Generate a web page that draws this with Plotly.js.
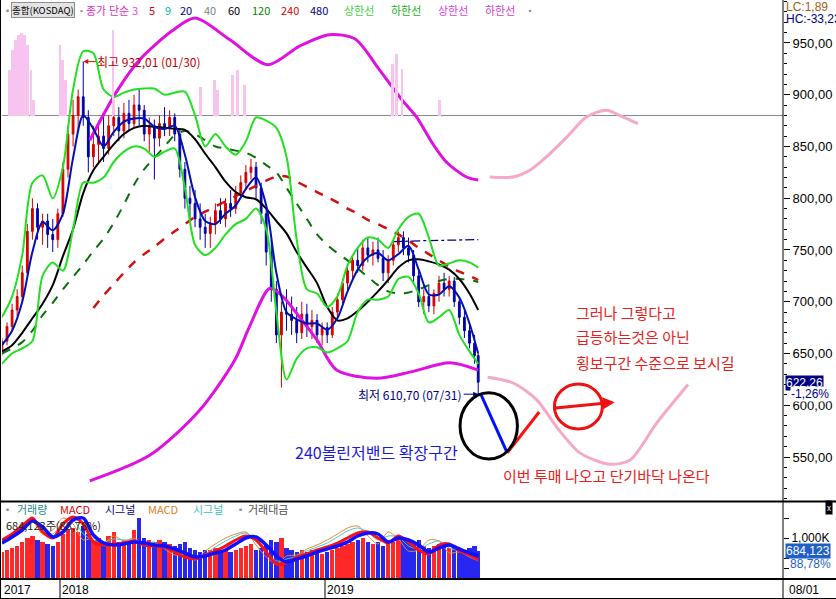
<!DOCTYPE html>
<html><head><meta charset="utf-8">
<script src="https://cdn.plot.ly/plotly-3.0.1.min.js"></script>
<style>html,body{margin:0;padding:0;background:#fff;}#chart{width:836px;height:599px;}</style>
</head><body><div id="chart"></div>
<script>
// ---------- DATA (weekly candles) ----------
const candleDates = ['2017-10-13','2017-10-20','2017-10-27','2017-11-03','2017-11-10','2017-11-17','2017-11-24','2017-12-01','2017-12-08','2017-12-15','2017-12-22','2017-12-29',
'2018-01-05','2018-01-12','2018-01-19','2018-01-26','2018-02-02','2018-02-09','2018-02-16','2018-02-23','2018-03-02','2018-03-09','2018-03-16','2018-03-23','2018-03-30','2018-04-06','2018-04-13','2018-04-20','2018-04-27','2018-05-04','2018-05-11','2018-05-18','2018-05-25','2018-06-01','2018-06-08','2018-06-15','2018-06-22','2018-06-29','2018-07-06','2018-07-13','2018-07-20','2018-07-27','2018-08-03','2018-08-10','2018-08-17','2018-08-24','2018-08-31','2018-09-07','2018-09-14','2018-09-21','2018-09-28','2018-10-05','2018-10-12','2018-10-19','2018-10-26','2018-11-02','2018-11-09','2018-11-16','2018-11-23','2018-11-30','2018-12-07','2018-12-14','2018-12-21','2018-12-28',
'2019-01-04','2019-01-11','2019-01-18','2019-01-25','2019-02-01','2019-02-08','2019-02-15','2019-02-22','2019-03-01','2019-03-08','2019-03-15','2019-03-22','2019-03-29','2019-04-05','2019-04-12','2019-04-19','2019-04-26','2019-05-03','2019-05-10','2019-05-17','2019-05-24','2019-05-31','2019-06-07','2019-06-14','2019-06-21','2019-06-28','2019-07-05','2019-07-12','2019-07-19','2019-07-26','2019-07-31'];
const openP = [652,662,676,692,705,728,768,790,772,778,765,760,785,828,862,880,898,878,840,852,860,848,870,878,865,882,872,890,885,862,870,858,872,868,878,862,828,800,795,780,772,766,775,788,780,795,790,805,815,825,830,810,785,748,712,668,690,688,682,670,688,676,682,668,675,668,690,702,718,730,740,735,752,745,750,742,728,740,755,762,752,745,725,700,705,696,708,718,712,720,700,685,672,660,648];
const highP = [665,680,698,712,735,775,800,795,785,785,780,790,835,870,895,905,932.01,885,870,875,880,880,895,888,892,895,900,905,890,878,876,880,888,885,882,866,835,812,808,795,785,782,795,800,800,808,812,822,832,838,835,815,790,760,720,700,712,705,695,700,698,692,688,680,680,695,708,722,735,745,752,760,762,758,762,750,745,758,768,768,762,750,730,712,715,712,725,728,725,724,705,692,680,668,650];
const lowP = [648,658,672,686,700,724,760,760,755,752,748,752,782,820,850,865,870,825,830,835,835,842,860,855,858,865,868,870,855,845,818,850,860,860,855,820,790,780,772,760,752,752,765,775,772,782,785,800,808,818,800,775,735,700,660,617,672,668,660,664,666,664,660,658,660,665,684,698,710,722,728,730,738,735,738,720,718,735,748,745,738,718,695,688,690,688,700,705,705,695,678,665,655,640,610.70];
const closeP = [662,676,692,705,728,768,790,772,778,765,760,785,828,862,880,898,878,840,852,860,848,870,878,865,882,872,890,885,862,870,858,872,868,878,862,828,800,795,780,772,766,775,788,780,795,790,805,815,825,830,810,785,748,712,668,690,688,682,670,688,676,682,668,675,668,690,702,718,730,740,735,752,745,750,742,728,740,755,762,752,745,725,700,705,696,708,718,712,720,700,685,672,660,648,622.26];
const volumeK = [650,700,750,800,900,1000,1050,950,900,850,800,900,1100,1200,1250,1150,1300,1100,950,1000,900,1050,1150,900,950,850,1200,1500,1000,950,900,950,900,850,800,850,900,750,700,650,700,700,750,650,700,650,700,750,800,850,700,750,850,950,900,1000,750,700,650,700,650,700,650,600,650,700,750,800,850,900,950,1000,900,850,900,800,850,900,1000,950,900,850,950,800,750,800,850,800,750,800,750,700,750,800,684];

// indicator lines, sampled every second week (same dates as candleDates[0,2,4,...])
const ma20 = [658,672,700,748,777,769,785,839,880,867,850,864,874,877,877,869,867,870,842,801,778,775,785,793,809,820,793,728,690,683,679,679,673,684,710,731,743,747,740,746,754,731,707,707,715,704,679,650];
const ma60 = [652,658,670,684,698,716,744,770,805,827,840,852,862,868,870,869,868,867,866,857,843,830,816,806,801,799,790,778,766,748,733,718,695,682,684,691,700,710,721,733,740,741,739,736,731,722,708,692];
const ma120 = [650,655,661,672,687,699,712,724,736,749,761,776,794,813,828,839,850,861,865,862,856,850,848,846,844,839,832,825,810,795,780,765,755,747,740,732,724,716,710,708,709,712,716,720,722,722,721,719];
const ma240 = [null,null,null,null,null,null,null,null,null,694,706,717,728,738,746,753,761,768,775,782,787,792,797,802,807,812,817,821,821,816,811,806,801,796,790,785,779,775,770,765,759,752,746,740,734,729,725,721];
const bbUpper20 = [685,705,745,815,822,800,830,905,942,940,905,898,902,905,906,906,900,902,903,880,850,862,850,842,855,878,875,868,840,760,712,708,695,705,735,752,762,760,752,770,782,785,762,735,737,740,738,733];
const bbLower20 = [640,650,655,662,725,738,730,770,815,815,820,835,845,850,848,840,845,848,810,755,745,752,765,775,780,790,770,690,625,645,655,656,651,655,662,690,702,702,705,722,724,708,680,685,692,668,652,640];
const ma480Dates = ['2019-04-05','2019-05-17','2019-07-31'];
const ma480 = [758,759,760];
const bbUpper240Dates = ['2018-02-11','2018-03-20','2018-04-21','2018-06-05','2018-07-06','2018-08-23','2018-10-14','2018-11-27','2019-01-07','2019-02-11','2019-03-17','2019-04-17','2019-05-07','2019-05-29','2019-06-17','2019-07-15','2019-07-31'];
const bbUpper240 = [856,903,934,962,974,953,929,947,958,954,924,895,878.5,853,835,820.5,817.6];
const bbLower240Dates = ['2018-02-11','2018-05-05','2018-07-12','2018-08-30','2018-09-19','2018-10-17','2018-11-04','2018-11-27','2018-12-21','2019-01-17','2019-03-13','2019-04-28','2019-06-22','2019-07-31'];
const bbLower240 = [527,552,595,644,676,713,705,685,663,634,626,632,641,634];
// top pink indicator (LC/HC spikes)
const hcDates = ['2017-10-24','2017-10-28','2017-11-01','2017-11-05','2017-11-09','2017-11-13','2017-11-17','2017-11-22','2017-11-26','2018-01-01','2018-01-05','2018-01-09','2018-03-15','2018-07-14','2018-08-02','2018-08-06','2018-08-26','2018-09-03','2018-09-12','2019-04-04','2019-04-10','2019-04-17','2019-06-08'];
const hcValues = [44,64,73,78,80,78,69,44,15,69,54,35,83,28,35,25,40,44,30,50,60,45,15];
// MACD panel
const macd = [8,14,22,30,16,10,24,31,24,6,3,4,5,7,3,2,1,-4,-9,-11,-7,-3,2,8,12,8,-4,-16,-15,-9,-6,-2,1,5,10,15,16,10,5,12,6,-2,-6,3,4,-3,-7,-12];
const signal = [5,11,18,27,21,11,16,28,30,13,5,3,4,6,5,3,2,-1,-5,-9,-8,-5,-2,4,10,11,3,-8,-14,-11,-8,-4,-1,2,6,12,15,14,6,10,8,3,-4,0,3,-1,-5,-8];
const macdFast = [6,14,24,27,14,18,30,24,8,10,5,12,7,10,3,6,-1,-7,-6,-12,-3,4,10,14,16,3,-9,-16,-8,-7,-1,3,8,14,20,22,12,4,16,9,-3,-2,8,7,-5,-4,-9,-13];
const signalFast = [4,10,20,28,20,14,26,28,14,8,6,9,8,8,5,5,1,-4,-6,-10,-6,1,7,12,15,8,-4,-13,-11,-8,-3,1,5,11,17,20,16,8,12,11,2,-1,4,7,0,-3,-6,-11];
// hand-drawn projection marks (date, price)
const drawPinkLowDates = ['2019-08-13','2019-09-17','2019-10-20','2019-11-16','2019-12-18','2020-01-28','2020-02-25','2020-04-02','2020-05-15'];
const drawPinkLow = [627,621.5,605,579,554,543,547,583,620];
const drawPinkHighDates = ['2019-08-16','2019-09-17','2019-10-10','2019-11-02','2019-11-30','2019-12-27','2020-01-24','2020-02-15','2020-03-07'];
const drawPinkHigh = [820.5,820.5,827,840,859,878.5,885,878.5,872];
const drawBlueDates = ['2019-08-04','2019-09-09'];
const drawBlue = [610,554];
const drawRedDates = ['2019-09-09','2019-10-23'];
const drawRed = [554,593.5];
const blackCircleDates = ['2019-07-06','2019-09-23'];
const blackCircle = [548,612];
const redCircleDates = ['2019-11-13','2020-01-18'];
const redCircle = [577,620.5];
const redArrowDates = ['2019-11-09','2020-02-04'];
const redArrow = [597,603];
const priceTicks = [550,600,650,700,750,800,850,900,950];
const headerItems = ['종가','단순','3','5','9','20','40','60','120','240','480','상한선','하한선','상한선','하한선'];
const volHeaderItems = ['거래량','MACD','시그널','MACD','시그널','거래대금'];

// ---------- BUILD ----------
const lineDates = candleDates.filter((d,i)=>i%2===0);
const fmt = v => v.toFixed(2).replace('.',',');
const volColors = closeP.map((c,i)=> c>=openP[i] ? '#ff1010' : '#1010f0');
let iMax = 0, iMin = 0;
highP.forEach((v,i)=>{ if(v>highP[iMax]) iMax=i; });
lowP.forEach((v,i)=>{ if(v<lowP[iMin]) iMin=i; });

function line(x,y,color,width,dash,yaxis,shape){
  return {type:'scatter',mode:'lines',x:x,y:y,yaxis:yaxis||'y',xaxis:'x',
    line:{color:color,width:width,dash:dash||'solid',shape:shape||'spline',smoothing:0.8},
    hoverinfo:'skip',connectgaps:false};
}

const traces = [
  {type:'candlestick',x:candleDates,open:openP,high:highP,low:lowP,close:closeP,xaxis:'x',yaxis:'y',
   increasing:{line:{color:'#d00000',width:1},fillcolor:'#e00000'},
   decreasing:{line:{color:'#0000a0',width:1},fillcolor:'#0000c0'},whiskerwidth:0,hoverinfo:'skip'},
  line(bbUpper240Dates,bbUpper240,'#e010e0',3),
  line(bbLower240Dates,bbLower240,'#e010e0',3),
  line(lineDates,ma240,'#d01010',2.5,'dash'),
  line(lineDates,ma120,'#087008',2,'dash'),
  line(lineDates,ma60,'#000000',2),
  line(ma480Dates,ma480,'#000080',1.3,'dashdot','y','linear'),
  line(lineDates,bbUpper20,'#20e020',2),
  line(lineDates,bbLower20,'#20e020',2),
  line(lineDates,ma20,'#0010b0',2),
  line(drawPinkLowDates,drawPinkLow,'#f5a8c8',3),
  line(drawPinkHighDates,drawPinkHigh,'#f5a8c8',3),
  line(drawBlueDates,drawBlue,'#0010ff',3,'solid','y','linear'),
  line(drawRedDates,drawRed,'#ff1010',3,'solid','y','linear'),
  {type:'bar',x:hcDates,y:hcValues,xaxis:'x',yaxis:'y3',width:4*86400000,
   marker:{color:'#f6c4ee',line:{width:0}},hoverinfo:'skip'},
  {type:'bar',x:candleDates,y:volumeK,xaxis:'x',yaxis:'y2',width:6*86400000,
   marker:{color:volColors,line:{width:0}},opacity:0.9,hoverinfo:'skip'},
  line(lineDates,macdFast,'#e08a30',1,'solid','y4'),
  line(lineDates,signalFast,'#40c8c8',1,'solid','y4'),
  line(lineDates,macd,'#ff1010',3,'solid','y4'),
  line(lineDates,signal,'#1010ff',3.5,'solid','y4')
];

// paper helpers (plot area: x 2..783 px, y 0..578 px)
const PX = px => (px-2)/781;
const PY = py => (578-py)/578;
const txt = (px,py,text,font,extra) => Object.assign({xref:'paper',yref:'paper',x:PX(px),y:PY(py),xanchor:'left',yanchor:'middle',text:text,showarrow:false,font:font},extra||{});

// header positions / colours (layout)
const hdrX = [84,107,130,147,163,178,202,226,250,279,308,342,389,436,483];
const hdrC = ['#e030c0','#e030c0','#e050e0','#e00000','#00b0b0','#000090','#808080','#000000','#008000','#d00000','#000090','#40d040','#20b020','#e040e0','#d040d0'];
const vhX = [15,58,103,146,191,246];
const vhC = ['#2a8a8a','#e00000','#000080','#e08020','#40c0c0','#505050'];

const ann = [
  txt(1,10,'▪',{size:9,color:'#909090'}),
  txt(11,10,'종합(KOSDAQ)',{size:9.5,color:'#000'},{bgcolor:'#e4e4e4',bordercolor:'#909090',borderwidth:1,borderpad:0}),
  txt(76,10,'▪',{size:7,color:'#909090'}),
  txt(524,10,'▪',{size:8,color:'#909090'}),
  txt(784,7,'LC:1,89',{size:12,color:'#a06010',family:'Liberation Sans'}),
  txt(784,19,'HC:-33,23',{size:12,color:'#000080',family:'Liberation Sans'}),
  txt(785,383,fmt(closeP[closeP.length-1]),{size:12,color:'#ffffff',family:'Liberation Sans'},{bgcolor:'#000080',borderpad:0}),
  txt(790,394,'-1,26%',{size:12,color:'#000080',family:'Liberation Sans'},{bgcolor:'#ffffff',borderpad:0}),
  {x:candleDates[iMax],y:highP[iMax],xref:'x',yref:'y',text:'최고 '+fmt(highP[iMax])+' (01/30)',showarrow:true,arrowhead:2,arrowsize:1,arrowwidth:1,arrowcolor:'#e01010',ax:66,ay:0,font:{size:12,color:'#c00000'}},
  {x:candleDates[iMin],y:lowP[iMin],xref:'x',yref:'y',text:'최저 '+fmt(lowP[iMin])+' (07/31)',showarrow:true,arrowhead:2,arrowsize:1,arrowwidth:1,arrowcolor:'#000080',ax:-68,ay:0,font:{size:12,color:'#000080'}},
  txt(376,452,'240볼린저밴드 확장구간',{size:16,color:'#1a1ad8'},{xanchor:'center'}),
  txt(574,312,'그러나 그렇다고',{size:15,color:'#e82020'}),
  txt(574,337,'급등하는것은 아닌',{size:15,color:'#e82020'}),
  txt(574,362,'횡보구간 수준으로 보시길',{size:15,color:'#e82020'}),
  txt(501,475,'이번 투매 나오고 단기바닥 나온다',{size:15,color:'#e82020'}),
  {x:redArrowDates[1],y:redArrow[1],ax:redArrowDates[0],ay:redArrow[0],xref:'x',yref:'y',axref:'x',ayref:'y',text:'',showarrow:true,arrowhead:2,arrowsize:0.8,arrowwidth:3,arrowcolor:'#ee1111'},
  txt(1,509,'▪',{size:9,color:'#909090'}),
  txt(234,509,'▪',{size:9,color:'#909090'}),
  txt(4,525,'684,123주(88,78%)',{size:11,color:'#202020'}),
  txt(785,551,'684,123',{size:12,color:'#ffffff',family:'Liberation Sans'},{bgcolor:'#1f5fc8',borderpad:0}),
  txt(788,564,'88,78%',{size:12,color:'#1f5fc8',family:'Liberation Sans'}),
  txt(825,507,'x',{size:8,color:'#ffffff'},{bgcolor:'#000000',borderpad:1}),
  txt(2,590,'2017',{size:12,color:'#000',family:'Liberation Sans'}),
  {xref:'x',yref:'paper',x:'2018-01-01',y:PY(590),xanchor:'left',yanchor:'middle',text:'2018',showarrow:false,font:{size:12,color:'#000',family:'Liberation Sans'}},
  {xref:'x',yref:'paper',x:'2019-01-01',y:PY(590),xanchor:'left',yanchor:'middle',text:'2019',showarrow:false,font:{size:12,color:'#000',family:'Liberation Sans'}},
  txt(787,590,'08/01',{size:12,color:'#000',family:'Liberation Sans'})
];
headerItems.forEach((t,i)=>ann.push(txt(hdrX[i],10,t,{size:11,color:hdrC[i]})));
volHeaderItems.forEach((t,i)=>ann.push(txt(vhX[i],509,t,{size:11,color:vhC[i]})));

const L = (x0,y0,x1,y1,extra) => Object.assign({type:'line',xref:'paper',yref:'paper',x0:x0,y0:y0,x1:x1,y1:y1,line:{color:'#000',width:1},layer:'above'},extra||{});
const shapes = [
  L(PX(0.5),PY(0),PX(0.5),PY(599)),
  L(1,PY(0),1,PY(599)),
  L(PX(0),PY(501.5),PX(836),PY(501.5),{line:{color:'#000',width:2}}),
  L(PX(0),PY(579),PX(836),PY(579),{line:{color:'#000',width:2}}),
  L(PX(0),PY(598.5),PX(836),PY(598.5)),
  {type:'line',xref:'x',yref:'paper',x0:'2018-01-01',x1:'2018-01-01',y0:PY(579),y1:PY(599),line:{color:'#000',width:1}},
  {type:'line',xref:'x',yref:'paper',x0:'2019-01-01',x1:'2019-01-01',y0:PY(579),y1:PY(599),line:{color:'#000',width:1}},
  {type:'circle',xref:'x',yref:'y',x0:blackCircleDates[0],x1:blackCircleDates[1],y0:blackCircle[0],y1:blackCircle[1],line:{color:'#000',width:3}},
  {type:'circle',xref:'x',yref:'y',x0:redCircleDates[0],x1:redCircleDates[1],y0:redCircle[0],y1:redCircle[1],line:{color:'#ee1111',width:3}}
];

const layout = {
  width:836,height:599,margin:{l:2,r:53,t:0,b:21,pad:0},
  paper_bgcolor:'#ffffff',plot_bgcolor:'#ffffff',showlegend:false,separators:',.',
  font:{family:'Noto Sans CJK KR, DejaVu Sans, sans-serif',size:12,color:'#000'},
  bargap:0,barmode:'overlay',
  xaxis:{type:'date',range:['2017-10-13 02:38','2020-09-22 19:00'],anchor:'y2',showticklabels:false,showgrid:false,zeroline:false,ticks:'',showline:false,rangeslider:{visible:false},fixedrange:true},
  yaxis:{domain:[PY(501),1],range:[507.5,991.5],side:'right',anchor:'x',showgrid:false,zeroline:false,showline:false,
    tickvals:priceTicks,tickformat:'.2f',ticks:'outside',ticklen:6,tickcolor:'#000',
    minor:{dtick:10,ticks:'outside',ticklen:3,tickcolor:'#000'},tickfont:{family:'Liberation Sans',size:13,color:'#000'}},
  yaxis3:{overlaying:'y',range:[-372,112],side:'right',anchor:'x',showgrid:false,showticklabels:false,ticks:'',showline:false,zeroline:true,zerolinecolor:'#8a8a8a',zerolinewidth:1},
  yaxis2:{domain:[0,PY(503)],range:[0,1875],side:'right',anchor:'x',showgrid:false,zeroline:false,showline:false,
    tickvals:[250,500,1000,1500],ticktext:['','','1,000K',''],ticks:'outside',ticklen:5,tickcolor:'#000',tickfont:{family:'Liberation Sans',size:12,color:'#000'}},
  yaxis4:{overlaying:'y2',range:[-30,45],side:'right',anchor:'x',visible:false},
  annotations:ann,shapes:shapes
};

Plotly.newPlot('chart',traces,layout,{staticPlot:true,displayModeBar:false});
</script></body></html>
